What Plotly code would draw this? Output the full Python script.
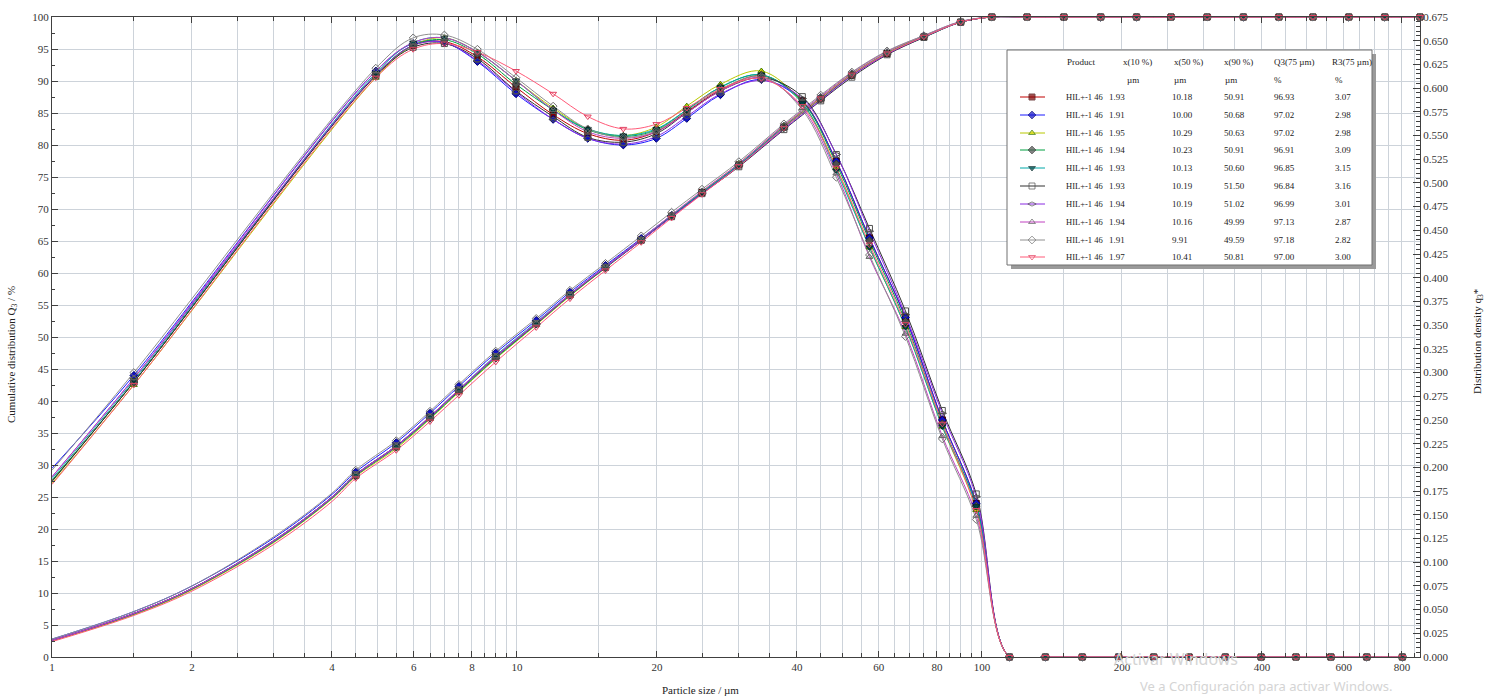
import math
import plotly.graph_objects as go

# ---------------- data ----------------
# class upper boundaries (cumulative Q3), µm
x_cum = [4.5, 5.5, 6.5, 7.5, 9.0, 11.0, 13.0, 15.5, 18.5, 21.5, 25.0, 30.0, 37.5, 45.0,
         52.5, 62.5, 75.0, 90.0, 105.0, 125.0, 150.0, 180.0, 215.0, 255.0, 305.0,
         365.0, 435.0, 515.0, 615.0, 735.0, 875.0]
# curve points of the smoothed Q3 line below the first boundary (no markers)
x_cum_lead = [1.0, 1.5, 2.0, 3.0, 4.0]
# class centres (density q3*), µm
x_dens = [1.5, 4.97, 5.98, 6.98, 8.22, 9.95, 11.96, 14.2, 16.93, 19.94, 23.18, 27.39,
          33.54, 41.08, 48.61, 57.28, 68.47, 82.16, 97.21, 114.6, 136.9, 164.3, 196.7,
          234.1, 278.9, 333.7, 398.5, 473.3, 562.8, 672.3, 801.9]
x_dens_lead = [1.0]

Q3_TAIL = [100.0, 100.0, 100.0, 100.0, 100.0, 100.0, 100.0, 100.0, 100.0, 100.0, 100.0, 100.0, 100.0]
Q3_s1 = [28.4, 32.9, 37.5, 41.7, 46.9, 52.1, 56.6, 60.9, 65.2, 68.9, 72.6, 76.9, 82.8, 87.2, 90.9, 94.3, 96.9, 99.2] + Q3_TAIL
Q3_s2 = [28.9, 33.5, 38.1, 42.3, 47.5, 52.6, 57.0, 61.2, 65.4, 69.0, 72.6, 76.9, 82.9, 87.4, 91.1, 94.4, 97.0, 99.2] + Q3_TAIL
Q3_s3 = [28.2, 32.6, 37.2, 41.4, 46.6, 51.9, 56.4, 60.8, 65.2, 69.0, 72.7, 77.1, 83.0, 87.4, 91.1, 94.4, 97.0, 99.2] + Q3_TAIL
Q3_s4 = [28.3, 32.8, 37.3, 41.5, 46.7, 52.0, 56.5, 60.8, 65.1, 68.9, 72.5, 76.8, 82.7, 87.2, 90.9, 94.3, 96.9, 99.2] + Q3_TAIL
Q3_s5 = [28.5, 33.0, 37.6, 41.8, 47.1, 52.3, 56.7, 61.0, 65.3, 69.0, 72.6, 76.9, 82.8, 87.3, 91.0, 94.3, 96.8, 99.2] + Q3_TAIL
Q3_s6 = [28.5, 33.0, 37.5, 41.7, 46.9, 52.1, 56.6, 60.9, 65.1, 68.8, 72.4, 76.6, 82.4, 86.9, 90.6, 94.1, 96.8, 99.2] + Q3_TAIL
Q3_s7 = [28.4, 32.9, 37.5, 41.7, 46.9, 52.1, 56.6, 60.9, 65.1, 68.8, 72.4, 76.7, 82.5, 87.0, 90.8, 94.2, 96.9, 99.2] + Q3_TAIL
Q3_s8 = [28.5, 33.0, 37.6, 41.8, 47.0, 52.2, 56.7, 61.0, 65.3, 69.1, 72.8, 77.1, 83.1, 87.6, 91.3, 94.6, 97.1, 99.3] + Q3_TAIL
Q3_s9 = [29.2, 33.8, 38.4, 42.6, 47.8, 52.9, 57.3, 61.5, 65.8, 69.5, 73.1, 77.4, 83.3, 87.8, 91.4, 94.7, 97.1, 99.3] + Q3_TAIL
Q3_s10 = [27.9, 32.3, 36.8, 40.9, 46.1, 51.5, 56.0, 60.4, 64.8, 68.6, 72.3, 76.7, 82.7, 87.3, 91.0, 94.3, 96.9, 99.2] + Q3_TAIL

Q3_lead = [
    [2.6, 6.8, 10.7, 18.1, 24.9],
    [2.8, 7.1, 11.1, 18.6, 25.4],
    [2.5, 6.6, 10.5, 17.9, 24.7],
    [2.6, 6.7, 10.6, 18.0, 24.8],
    [2.6, 6.8, 10.7, 18.2, 25.0],
    [2.6, 6.8, 10.7, 18.2, 25.0],
    [2.6, 6.8, 10.7, 18.1, 24.9],
    [2.6, 6.8, 10.7, 18.2, 25.0],
    [2.8, 7.1, 11.1, 18.8, 25.6],
    [2.4, 6.5, 10.3, 17.6, 24.3],
]

DENS_TAIL = [0.0, 0.0, 0.0, 0.0, 0.0, 0.0, 0.0, 0.0, 0.0, 0.0, 0.0, 0.0]
q3_s1 = [0.290, 0.614, 0.645, 0.649, 0.633, 0.601, 0.572, 0.552, 0.545, 0.554, 0.575, 0.598, 0.613, 0.587, 0.523, 0.442, 0.358, 0.250, 0.162] + DENS_TAIL
q3_s2 = [0.297, 0.618, 0.647, 0.648, 0.628, 0.594, 0.567, 0.547, 0.540, 0.547, 0.568, 0.593, 0.609, 0.586, 0.523, 0.442, 0.358, 0.250, 0.162] + DENS_TAIL
q3_s3 = [0.287, 0.611, 0.645, 0.653, 0.638, 0.608, 0.579, 0.557, 0.550, 0.559, 0.581, 0.604, 0.618, 0.584, 0.516, 0.432, 0.348, 0.243, 0.155] + DENS_TAIL
q3_s4 = [0.290, 0.614, 0.645, 0.651, 0.636, 0.604, 0.577, 0.556, 0.549, 0.556, 0.577, 0.601, 0.614, 0.586, 0.520, 0.439, 0.354, 0.246, 0.159] + DENS_TAIL
q3_s5 = [0.292, 0.616, 0.648, 0.653, 0.638, 0.608, 0.577, 0.557, 0.550, 0.557, 0.577, 0.601, 0.614, 0.584, 0.513, 0.432, 0.348, 0.243, 0.159] + DENS_TAIL
q3_s6 = [0.290, 0.613, 0.643, 0.647, 0.631, 0.597, 0.570, 0.548, 0.543, 0.552, 0.574, 0.597, 0.611, 0.591, 0.530, 0.452, 0.365, 0.260, 0.172] + DENS_TAIL
q3_s7 = [0.294, 0.614, 0.645, 0.648, 0.629, 0.596, 0.567, 0.547, 0.541, 0.549, 0.570, 0.594, 0.608, 0.589, 0.530, 0.449, 0.361, 0.257, 0.169] + DENS_TAIL
q3_s8 = [0.294, 0.618, 0.648, 0.653, 0.638, 0.608, 0.577, 0.554, 0.547, 0.554, 0.574, 0.597, 0.611, 0.579, 0.510, 0.422, 0.341, 0.233, 0.149] + DENS_TAIL
q3_s9 = [0.300, 0.621, 0.653, 0.656, 0.641, 0.611, 0.581, 0.557, 0.548, 0.555, 0.576, 0.599, 0.612, 0.577, 0.506, 0.424, 0.338, 0.230, 0.145] + DENS_TAIL
q3_s10 = [0.287, 0.611, 0.641, 0.647, 0.638, 0.618, 0.594, 0.570, 0.557, 0.562, 0.579, 0.599, 0.610, 0.581, 0.516, 0.435, 0.351, 0.246, 0.155] + DENS_TAIL

q3_lead = [0.186, 0.199, 0.183, 0.186, 0.188, 0.185, 0.190, 0.190, 0.197, 0.182]

product = ["HIL+-1 46"] * 10
x10 = ["1.93", "1.91", "1.95", "1.94", "1.93", "1.93", "1.94", "1.94", "1.91", "1.97"]
x50 = ["10.18", "10.00", "10.29", "10.23", "10.13", "10.19", "10.19", "10.16", "9.91", "10.41"]
x90 = ["50.91", "50.68", "50.63", "50.91", "50.60", "51.50", "51.02", "49.99", "49.59", "50.81"]
Q3_75 = ["96.93", "97.02", "97.02", "96.91", "96.85", "96.84", "96.99", "97.13", "97.18", "97.00"]
R3_75 = ["3.07", "2.98", "2.98", "3.09", "3.15", "3.16", "3.01", "2.87", "2.82", "3.00"]

x_tickvals = [1, 2, 4, 6, 8, 10, 20, 40, 60, 80, 100, 200, 400, 600, 800]
x_ticktext = [str(v) for v in x_tickvals]

Q3_all = [Q3_s1, Q3_s2, Q3_s3, Q3_s4, Q3_s5, Q3_s6, Q3_s7, Q3_s8, Q3_s9, Q3_s10]
q3_all = [q3_s1, q3_s2, q3_s3, q3_s4, q3_s5, q3_s6, q3_s7, q3_s8, q3_s9, q3_s10]

# ---------------- styles ----------------
styles = [
    dict(line="#c00000", sym="square", fill="#800000", edge="#400000"),
    dict(line="#1a1aff", sym="diamond", fill="#1010c8", edge="#000070"),
    dict(line="#b8c800", sym="triangle-up", fill="#d8d800", edge="#3c7a00"),
    dict(line="#00a040", sym="diamond", fill="#505050", edge="#303030"),
    dict(line="#00a8a8", sym="triangle-down", fill="#004848", edge="#002828"),
    dict(line="#303030", sym="square-open", fill="#505050", edge="#505050"),
    dict(line="#8a2be2", sym="diamond-wide-open", fill="#505050", edge="#505050"),
    dict(line="#c040c0", sym="triangle-up-open", fill="#606060", edge="#606060"),
    dict(line="#909090", sym="diamond-open", fill="#707070", edge="#707070"),
    dict(line="#ff5a78", sym="triangle-down-open", fill="#e04060", edge="#e04060"),
]

W, H = 1497, 698
PX0, PX1, PY0, PY1 = 52, 1420, 17, 657


def pxp(xp):
    return (xp - PX0) / (PX1 - PX0)


def pyp(yp):
    return (PY1 - yp) / (PY1 - PY0)


SERIF = "Liberation Serif"
GRID = "#cdd3da"
AX = "#404040"

fig = go.Figure()

# lines
for i in range(10):
    st = styles[i]
    fig.add_trace(go.Scatter(x=x_dens_lead + x_dens, y=[q3_lead[i]] + q3_all[i], yaxis="y2",
                             mode="lines", line=dict(color=st["line"], width=1, shape="spline"),
                             showlegend=False, hoverinfo="skip"))
    fig.add_trace(go.Scatter(x=x_cum_lead + x_cum, y=Q3_lead[i] + Q3_all[i], yaxis="y",
                             mode="lines", line=dict(color=st["line"], width=1, shape="spline"),
                             showlegend=False, hoverinfo="skip"))
# markers
for i in range(10):
    st = styles[i]
    mk = dict(symbol=st["sym"], size=6, color=st["fill"], line=dict(color=st["edge"], width=1))
    fig.add_trace(go.Scatter(x=x_dens, y=q3_all[i], yaxis="y2", mode="markers", marker=mk,
                             cliponaxis=False, showlegend=False))
    fig.add_trace(go.Scatter(x=x_cum, y=Q3_all[i], yaxis="y", mode="markers", marker=mk,
                             cliponaxis=False, showlegend=False))

# legend box (overlay axes in pixel units)
BX0, BX1, BY0, BY1 = 1007, 1372, 50, 265
fig.add_trace(go.Scatter(x=[BX0 + 4, BX1 + 4, BX1 + 4, BX0 + 4, BX0 + 4],
                         y=[BY0 + 4, BY0 + 4, BY1 + 4, BY1 + 4, BY0 + 4],
                         xaxis="x3", yaxis="y3", mode="lines", fill="toself",
                         fillcolor="#9a9a9a", line=dict(width=0), showlegend=False, hoverinfo="skip"))
fig.add_trace(go.Scatter(x=[BX0, BX1, BX1, BX0, BX0], y=[BY0, BY0, BY1, BY1, BY0],
                         xaxis="x3", yaxis="y3", mode="lines", fill="toself",
                         fillcolor="white", line=dict(width=1, color="#707070"),
                         showlegend=False, hoverinfo="skip"))
row_y = [97, 115, 133, 150, 168, 186, 204, 222, 240, 257]
for i in range(10):
    st = styles[i]
    fig.add_trace(go.Scatter(x=[1020, 1032, 1045], y=[row_y[i]] * 3, xaxis="x3", yaxis="y3",
                             mode="lines+markers",
                             line=dict(color=st["line"], width=1),
                             marker=dict(symbol=st["sym"], size=[0, 6, 0], color=st["fill"],
                                         line=dict(color=st["edge"], width=1)),
                             cliponaxis=False, showlegend=False, hoverinfo="skip"))

ann = []


def txt(xp, yp, s, size=9, anchor="left", color="#222222", family=SERIF, angle=0):
    ann.append(dict(x=pxp(xp), y=pyp(yp), xref="paper", yref="paper", text=s, showarrow=False,
                    xanchor=anchor, yanchor="middle", textangle=angle,
                    font=dict(family=family, size=size, color=color)))


hdr = [(1065, "Product"), (1121, "x(10 %)"), (1172, "x(50 %)"), (1222, "x(90 %)"),
       (1272, "Q3(75 µm)"), (1330, "R3(75 µm)")]
for xp, s in hdr:
    txt(xp, 62, s)
for xp, s in [(1125, "µm"), (1172, "µm"), (1223, "µm"), (1272, "%"), (1333, "%")]:
    txt(xp, 80, s)
for i in range(10):
    y = row_y[i]
    txt(1064, y, product[i], size=8.5)
    txt(1107, y, x10[i])
    txt(1170, y, x50[i])
    txt(1222, y, x90[i])
    txt(1272, y, Q3_75[i])
    txt(1333, y, R3_75[i])

# axis titles
txt(700, 690, "Particle size / µm", size=11, anchor="center")
txt(12, 355, "Cumulative distribution Q<sub>3</sub> / %", size=11, anchor="center", angle=-90)
txt(1478, 342, "Distribution density q<sub>3</sub>*", size=11, anchor="center", angle=-90)

# OS watermark
txt(1176, 659, "Activar Windows", size=16, anchor="center", color="#d4d4d4", family="Noto Sans")
txt(1266, 686, "Ve a Configuración para activar Windows.", size=13, anchor="center",
    color="#d4d4d4", family="Noto Sans")

minor_x = ([1.5, 2.5, 3, 3.5, 4.5, 5, 5.5, 6.5, 7, 7.5, 8.5, 9, 9.5]
           + [15, 25, 30, 35, 45, 50, 55, 65, 70, 75, 85, 90, 95]
           + [150, 250, 300, 350, 450, 500, 550, 650, 700, 750, 850])

tickfont = dict(family=SERIF, size=11, color="#333333")

fig.update_layout(
    width=W, height=H,
    margin=dict(l=PX0, r=W - PX1, t=PY0, b=H - PY1),
    paper_bgcolor="white", plot_bgcolor="white",
    showlegend=False,
    xaxis=dict(type="log", range=[0, math.log10(875)], tickmode="array",
               tickvals=x_tickvals, ticktext=x_ticktext, ticks="inside", ticklen=6,
               tickcolor=AX, showline=True, linecolor=AX, linewidth=1, mirror="ticks",
               showgrid=True, gridcolor=GRID, gridwidth=1, zeroline=False,
               tickfont=tickfont,
               minor=dict(tickmode="array", tickvals=minor_x, ticks="inside", ticklen=4,
                          tickcolor=AX, showgrid=True, gridcolor=GRID, gridwidth=1)),
    yaxis=dict(range=[0, 100], tick0=0, dtick=5, ticks="inside", ticklen=6, tickcolor=AX,
               showline=True, linecolor=AX, linewidth=1, showgrid=True, gridcolor=GRID,
               zeroline=False, tickfont=tickfont,
               minor=dict(dtick=2.5, ticks="inside", ticklen=3, tickcolor=AX, showgrid=False)),
    yaxis2=dict(overlaying="y", side="right", range=[0, 0.675], tick0=0, dtick=0.025,
                tickformat=".3f", ticks="inside", ticklen=7, tickcolor=AX,
                showline=True, linecolor=AX, linewidth=1, showgrid=False, zeroline=False,
                tickfont=tickfont,
                minor=dict(dtick=0.005, ticks="inside", ticklen=4, tickcolor=AX)),
    xaxis3=dict(overlaying="x", range=[PX0, PX1], visible=False),
    yaxis3=dict(overlaying="y", range=[PY1, PY0], visible=False),
    annotations=ann,
)

fig.write_html("out.html")
